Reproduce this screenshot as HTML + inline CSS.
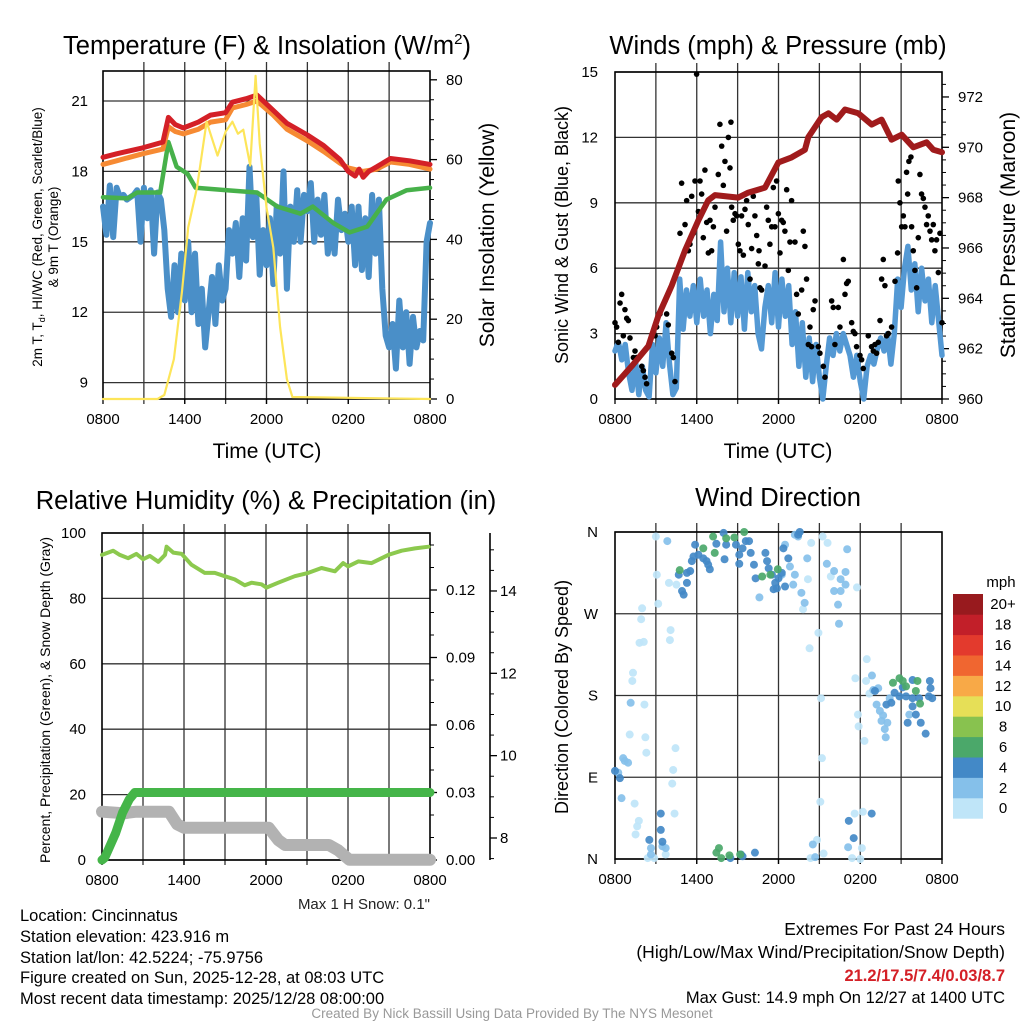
<!DOCTYPE html>
<html><head><meta charset="utf-8"><style>
html,body{margin:0;padding:0;background:#fff;}
svg{display:block;font-family:"Liberation Sans",Arial,sans-serif;}
</style></head><body>
<svg id="c" width="1024" height="1024" viewBox="0 0 1024 1024" xmlns="http://www.w3.org/2000/svg">
<rect x="0" y="0" width="1024" height="1024" fill="#fff"/>
<text x="267" y="54" font-size="25.5" text-anchor="middle">Temperature (F) &amp; Insolation (W/m<tspan font-size="15" dy="-10">2</tspan><tspan dy="10">)</tspan></text>
<text x="778" y="54" font-size="25.5" text-anchor="middle">Winds (mph) &amp; Pressure (mb)</text>
<text x="266" y="509" font-size="25.5" text-anchor="middle">Relative Humidity (%) &amp; Precipitation (in)</text>
<text x="778" y="506" font-size="25.5" text-anchor="middle">Wind Direction</text>
<text x="267" y="458" font-size="21" text-anchor="middle">Time (UTC)</text>
<text x="778" y="458" font-size="21" text-anchor="middle">Time (UTC)</text>
<text transform="translate(42,237) rotate(-90)" font-size="13.5" text-anchor="middle">2m T, T<tspan font-size="9" dy="3">d</tspan><tspan dy="-3">, HI/WC (Red, Green, Scarlet/Blue)</tspan></text>
<text transform="translate(58,237) rotate(-90)" font-size="13.5" text-anchor="middle">&amp; 9m T (Orange)</text>
<text transform="translate(494,235) rotate(-90)" font-size="21" text-anchor="middle">Solar Insolation (Yellow)</text>
<text transform="translate(568,235) rotate(-90)" font-size="18" text-anchor="middle">Sonic Wind &amp; Gust (Blue, Black)</text>
<text transform="translate(1015,235) rotate(-90)" font-size="21" text-anchor="middle">Station Pressure (Maroon)</text>
<text transform="translate(50,700) rotate(-90)" font-size="14" text-anchor="middle">Percent, Precipitation (Green), &amp; Snow Depth (Gray)</text>
<text transform="translate(568,697) rotate(-90)" font-size="18" text-anchor="middle">Direction (Colored By Speed)</text>
<text x="430" y="909" font-size="15" text-anchor="end" fill="#222">Max 1 H Snow: 0.1"</text>
<g font-size="16.5">
<text x="20" y="921">Location: Cincinnatus</text>
<text x="20" y="942">Station elevation: 423.916 m</text>
<text x="20" y="963">Station lat/lon: 42.5224; -75.9756</text>
<text x="20" y="983">Figure created on Sun, 2025-12-28, at 08:03 UTC</text>
<text x="20" y="1004">Most recent data timestamp: 2025/12/28 08:00:00</text>
</g>
<g font-size="17.5" text-anchor="end">
<text x="1005" y="935">Extremes For Past 24 Hours</text>
<text x="1005" y="958">(High/Low/Max Wind/Precipitation/Snow Depth)</text>
<text x="1005" y="981" font-size="16.5" font-weight="bold" fill="#d42027">21.2/17.5/7.4/0.03/8.7</text>
<text x="1005" y="1003" font-size="16.5">Max Gust: 14.9 mph On 12/27 at 1400 UTC</text>
</g>
<text x="512" y="1018" font-size="13.5" text-anchor="middle" fill="#999">Created By Nick Bassill Using Data Provided By The NYS Mesonet</text>
</svg>
<script>
// ---------- DATA ----------
const xTickLabels = ["0800","1400","2000","0200","0800"];
const xTickHours = [0,6,12,18,24];
// Panel 1
const tempTicks = [9,12,15,18,21];
const insolTicks = [0,20,40,60,80];
const redT = [0,1,2.9,4.4,4.8,5.3,5.9,7,7.9,9,9.5,10.5,11.3,12.5,13.5,15,16.2,17.4,18,18.5,18.8,19.1,19.5,20.1,21.1,22.5,24];
const redV = [18.6,18.75,19.0,19.25,20.3,20.0,19.85,20.1,20.4,20.5,20.95,21.1,21.25,20.6,20.05,19.55,19.1,18.5,18.0,17.8,18.1,17.75,18.0,18.2,18.55,18.45,18.3];
const orangeT = [0,1,2.9,4.4,4.8,5.3,5.9,7,7.9,9,9.5,10.5,11.3,12.5,13.5,15,16.2,17.4,18,19.1,20.1,21.1,22.5,24];
const orangeV = [18.3,18.45,18.75,18.95,19.9,19.7,19.6,19.8,20.1,20.2,20.7,20.85,21.0,20.4,19.8,19.3,18.85,18.35,18.15,18.0,18.1,18.4,18.3,18.1];
const dewT = [0,1.8,2.5,4.2,4.8,5.4,6.2,6.8,9.1,11.3,12.8,14.5,15.4,16.9,18.1,19.4,20.8,22.3,24];
const dewV = [16.9,16.85,17.1,17.1,19.25,18.2,17.9,17.3,17.2,17.1,16.5,16.2,16.5,15.8,15.4,15.65,16.8,17.2,17.3];
const chillV = [16.5,15.3,17.4,15.2,17.3,16.9,17.0,16.8,16.9,17.0,17.2,15.0,17.3,16.0,17.2,14.5,17.1,16.8,15.5,13.0,11.8,14.0,12.0,14.5,12.5,15.0,12.0,14.5,11.5,13.0,10.5,12.0,13.5,11.5,14.0,12.5,13.0,15.5,14.5,15.8,13.5,16.0,14.2,18.2,15.2,17.0,13.6,15.5,14.0,16.0,13.2,16.5,14.5,18.0,13.0,16.5,15.0,17.2,15.0,17.0,16.3,17.5,15.0,16.8,15.3,17.0,14.5,15.8,14.5,16.8,15.5,16.2,15.0,16.5,14.0,16.5,13.8,16.0,13.5,17.0,14.5,16.8,13.0,11.0,10.5,11.5,9.6,12.5,10.5,12.0,9.8,11.8,10.5,11.2,10.8,15.0,15.8];
const insolT = [0,4.0,4.5,5.2,5.8,6.25,6.9,7.6,8.4,9.0,9.5,9.9,10.3,10.8,11.2,11.5,12.0,12.5,13.0,13.5,13.9,24];
const insolV = [0,0,1,10,27,43,53,69.5,61,67,69.5,66.5,67.5,58.5,81,64,48,38,18,5,0.5,0];
// Panel 2
const windTicks = [0,3,6,9,12,15];
const pressTicks = [960,962,964,966,968,970,972];
const windV = [2.2,2.6,1.8,2.5,1.2,0.4,1.8,0.2,1.5,0.4,0.1,2.5,1.2,2.8,1.5,3.5,1.6,0.2,0.5,5.5,3.2,5.0,3.8,5.2,3.5,5.5,3.8,5.0,3.0,4.8,3.6,7.2,4.0,6.0,3.5,5.8,3.8,5.6,3.2,5.8,4.0,5.2,3.0,2.3,4.2,5.2,3.5,5.8,3.3,5.5,3.8,5.2,2.5,4.0,1.5,3.5,1.0,2.8,0.8,2.5,1.0,0.0,1.5,2.8,2.0,3.0,2.2,3.0,2.5,2.0,1.0,2.0,0.8,0.0,1.5,2.0,1.6,2.3,2.8,2.2,3.0,1.6,3.0,5.5,4.2,6.0,7.0,5.0,6.2,4.0,6.0,4.5,5.5,3.5,5.2,3.6,2.0];
const gustT = [0,.12,.49,.37,.73,.86,.98,.24,.61,1.1,1.47,1.59,1.35,1.96,2.08,2.2,2.32,2.94,3.06,3.3,3.67,3.79,3.91,4.16,4.28,4.4,4.77,4.89,5.14,5.26,5.38,5.5,5.63,5.75,5.87,6.12,6.24,6.36,6.48,6.6,6.73,6.85,6.97,7.09,7.22,7.34,7.58,7.7,7.83,7.95,8.07,8.19,8.32,8.44,8.51,8.56,8.68,8.81,8.93,9.05,9.17,9.29,9.42,9.54,9.66,9.78,9.91,10.03,10.15,10.27,10.4,10.52,10.57,10.64,10.76,11.01,11.13,11.25,11.37,11.5,11.62,11.74,11.86,11.99,12.11,12.23,12.35,12.47,12.6,12.72,12.84,12.96,13.21,13.33,13.45,13.7,13.82,13.94,14.06,14.19,14.31,14.43,14.55,14.68,14.92,15.04,15.29,15.41,15.9,16.02,16.14,16.39,16.51,16.76,16.88,17.0,17.12,17.37,17.49,17.61,17.73,17.98,18.1,18.22,18.59,18.83,18.96,19.08,19.2,19.32,19.45,19.57,19.69,19.81,19.93,20.06,20.3,20.55,20.74,20.79,20.91,21.04,21.16,21.28,21.4,21.48,21.57,21.72,21.77,21.89,22.01,22.14,22.26,22.38,22.5,22.63,22.75,22.87,22.99,23.12,23.24,23.36,23.48,23.6,23.73,23.85,24,5.99];
const gustV = [3.5,3.3,4.8,4.4,4.1,3.7,3.6,2.6,2.9,2.8,2.2,1.9,1.9,1.5,1.3,1.0,0.7,2.9,3.3,3.9,4.5,3.9,3.4,2.1,1.9,0.8,7.6,9.9,8.0,9.1,6.8,7.1,9.3,7.6,10.0,8.6,10.0,9.4,7.4,10.5,8.1,6.7,8.2,6.8,7.9,8.8,10.3,12.6,11.6,9.8,10.9,7.7,12.0,10.6,12.7,8.8,8.2,8.5,8.4,7.1,6.8,8.4,6.6,8.7,9.1,8.0,5.5,6.9,9.3,8.4,7.5,6.2,6.8,5.1,5.0,6.1,8.8,8.2,7.1,7.9,9.7,7.9,10.0,8.5,6.7,8.2,8.1,7.7,9.6,5.9,7.2,9.1,7.2,4.8,3.9,5.0,7.7,7.0,5.5,2.5,3.3,2.4,4.1,4.5,2.4,2.1,1.5,1.0,4.5,4.2,2.5,4.2,3.3,6.4,4.8,5.3,5.4,3.5,3.1,3.0,2.4,2.0,1.8,1.4,2.9,2.4,2.2,2.5,2.1,2.6,3.6,5.5,6.4,5.2,2.9,3.0,3.3,5.4,6.7,10.0,9.0,7.9,8.4,7.9,10.4,9.4,10.9,11.1,7.9,6.8,5.9,5.1,7.4,10.3,9.4,9.2,8.8,8.0,8.4,7.7,7.3,8.0,6.8,7.3,5.8,7.6,3.5,14.9];
const pressT = [0,1.22,2.45,3.18,4.16,5.14,6.12,6.85,7.34,9.05,9.78,11.01,11.99,12.96,13.94,14.19,15.17,15.66,16.27,16.88,17.86,18.84,19.57,20.3,21.04,21.89,22.87,23.36,24];
const pressV = [960.56,961.3,962.1,963.3,964.5,965.9,967.1,967.9,968.1,968.0,968.2,968.4,969.4,969.6,969.9,970.4,971.2,971.35,971.1,971.5,971.35,970.9,971.1,970.3,970.5,970.0,970.2,969.9,969.8];
// Panel 3
const pctTicks = [0,20,40,60,80,100];
const precipTicks = ["0.00","0.03","0.06","0.09","0.12"];
const snowTicks = [8,10,12,14];
const rhT = [0,0.81,1.3,1.91,2.52,3.01,3.5,4.12,4.61,4.73,5.22,5.83,6.54,7.52,8.25,8.98,9.71,10.45,10.94,11.67,12.03,12.89,14.11,15.09,16.06,17.04,17.65,18.0,18.75,19.73,20.95,21.93,22.9,23.9];
const rhV = [93.3,94.6,93.3,92.3,93.6,92.0,93.0,91.2,93.3,95.8,94.0,93.6,90.3,87.8,87.8,86.8,85.8,84.0,84.8,84.3,83.3,84.8,86.8,87.8,89.3,88.3,90.8,89.8,91.3,90.8,93.3,94.6,95.3,95.8];
const precipT = [0,0.2,0.64,1.0,1.5,2.0,2.4,24];
const precipV = [0,0.001,0.007,0.012,0.021,0.027,0.03,0.03];
const snowT = [0,1.65,2.0,2.5,4.9,5.5,6.0,12.2,12.9,13.4,16.6,17.3,18.1,24];
const snowV = [8.64,8.6,8.62,8.64,8.64,8.33,8.25,8.25,7.95,7.83,7.83,7.7,7.47,7.47];
// Panel 4
const dirLabels = ["N","E","S","W","N"];
const dirTickDeg = [0,90,180,270,360];
const speedBins = ["0","2","4","6","8","10","12","14","16","18","20+"];
const binColors = ["#bfe5f8","#85c0ea","#4389c7","#4ba86a","#88c24f","#e6df57","#f8a947","#f06630","#e33a2d","#c21f29","#981a1e"];
const paleT=[3.0,3.07,3.17,3.96,4.51,1.99,1.92,1.8,2.11,4.08,4.03,1.32,1.27,2.16,1.08,2.23,2.3,4.44,4.27,4.2,1.44,1.75,1.63,1.51,4.37,2.4,2.88,3.72,15.24,15.6,14.4,13.8,14.28,14.93,14.16,15.84,17.76,15.12,15.19,15.07,14.83,15.31,14.35,17.59,18.19,18.12,17.4,18.0,17.64,18.43,18.48,18.67,17.83,17.88,18.31];
const paleD=[355,313,281,304,302,276,264,238,239,252,241,205,196,170,137,134,117,122,98,83,61,42,36,27,50,1,1,5,355,348,348,275,232,249,308,311,299,177,111,63,21,6,1,50,52,12,1,0,199,196,220,182,159,146,130];
const lightT=[3.84,0.72,0.96,0.6,0.24,0.48,1.15,3.48,3.72,2.64,2.64,10.6,13.2,13.08,13.68,13.92,14.11,15.55,16.08,16.56,16.92,16.37,16.44,17.04,16.92,16.08,16.56,14.52,14.69,17.11,18.86,18.96,19.32,19.2,19.44,19.68,19.56,19.87,19.8,19.99,21.6,20.16,13.2,13.44,12.48,12.84,12.24];
const lightD=[350,108,106,111,95,67,172,14,12,12,5,288,313,302,293,282,331,325,317,308,302,280,259,341,316,295,295,16,2,13,202,186,188,170,163,158,152,134,143,150,159,177,357,355,346,322,313];
const midT=[5.88,5.76,5.64,5.52,5.28,4.68,4.92,5.04,5.28,6.12,6.48,6.72,6.96,6.84,7.44,8.04,7.97,8.16,8.88,9.12,9.36,9.6,9.84,9.96,10.2,9.12,11.04,11.16,11.28,11.52,11.76,12.0,11.64,11.88,12.24,12.36,12.48,12.72,13.44,13.56,10.32,3.36,3.36,2.52,3.48,10.27,8.47,9.24,9.36,17.16,17.52,18.84,19.08,19.92,20.28,20.52,20.88,21.36,21.84,22.32,23.04,23.28,21.84,22.08,21.48,22.44,22.8,23.11,23.16,21.84,21.12,0,0.36];
const midD=[346,333,328,317,315,313,295,291,304,335,331,328,319,324,347,330,359,346,346,335,342,350,350,337,324,325,337,328,320,313,304,309,297,298,315,342,300,331,357,360,309,50,32,21,19,7,1,5,3,42,23,50,185,170,172,183,179,179,177,177,179,177,168,159,150,150,138,196,188,197,189,97,89];
const greenT=[4.75,6.48,7.32,7.2,8.16,8.76,9.48,10.8,11.4,11.95,7.63,7.44,7.8,8.4,9.19,20.88,21.12,21.36,20.4,22.08,22.2,22.39];
const greenD=[318,342,337,355,353,354,360,311,313,319,12,7,1,4,5,199,196,190,194,185,196,171];
const groupSpeeds=[1,3,5,7];

// ---------- DRAWING ----------
const NS="http://www.w3.org/2000/svg";
const svg=document.getElementById('c');
function mk(tag,attrs,parent){const e=document.createElementNS(NS,tag);for(const k in attrs)e.setAttribute(k,attrs[k]);(parent||svg).appendChild(e);return e;}
function txt(parent,x,y,s,size,anchor){const e=mk('text',{x:x,y:y,'font-size':size,'text-anchor':anchor||'middle'},parent);e.textContent=s;return e;}
function pathD(ts,vs,fx,fy){let d='';for(let i=0;i<ts.length;i++){d+=(i?'L':'M')+fx(ts[i]).toFixed(1)+','+fy(vs[i]).toFixed(1);}return d;}

function panel(name,x0,x1,y0,y1,hGridYs){
  const g=mk('g',{});
  
  
  const fx=t=>x0+t/24*(x1-x0);
  for(let h=3;h<24;h+=3){
    const l=mk('line',{x1:fx(h),x2:fx(h),y1:y0-9,y2:y1+5,stroke:'#333','stroke-width':1.3},g);
    
    
  }
  hGridYs.forEach(y=>{
    const l=mk('line',{x1:x0,x2:x1,y1:y,y2:y,stroke:'#333','stroke-width':1.3},g);
    
    
  });
  const b=mk('rect',{x:x0,y:y0,width:x1-x0,height:y1-y0,fill:'none',stroke:'#000','stroke-width':1.6},g);
  
  
  xTickHours.forEach((h,i)=>{
    const l=mk('line',{x1:fx(h),x2:fx(h),y1:y1,y2:y1+5,stroke:'#000','stroke-width':1.3},g);
    
    
    const t=txt(g,fx(h),y1+25,xTickLabels[i],15);
    
    
  });
  return {g,fx};
}
function line(g,name,ts,vs,fx,fy,color,w){
  const p=mk('path',{d:pathD(ts,vs,fx,fy),fill:'none',stroke:color,'stroke-width':w,'stroke-linejoin':'round','stroke-linecap':'round'},g);
  
  
  return p;
}
function rightTicks(g,name,x,ys,labels,minorYs,lx){
  ys.forEach((y,i)=>{
    const l=mk('line',{x1:x,x2:x+7,y1:y,y2:y,stroke:'#000','stroke-width':1.3},g);
    
    
    const t=txt(g,lx,y+5,labels[i],15,'start');
    
    
  });
  minorYs.forEach(y=>{
    const l=mk('line',{x1:x,x2:x+4,y1:y,y2:y,stroke:'#000','stroke-width':1},g);
    
    
  });
}
function leftLabels(g,name,x,ys,labels){
  ys.forEach((y,i)=>{
    const t=txt(g,x,y+5,labels[i],15,'end');
    
    
  });
}

// Panel 1
(function(){
  const x0=103,x1=430,y0=71,y1=399;
  const fyT=v=>101+(21-v)*23.47, fyI=v=>399-v*3.99;
  const P=panel('temp',x0,x1,y0,y1,tempTicks.map(fyT));
  const g=P.g,fx=P.fx;
  leftLabels(g,'temp-y',88,tempTicks.map(fyT),tempTicks.map(String));
  const minors=[];for(let v=0;v<=82;v+=5){if(v%20)minors.push(fyI(v));}
  rightTicks(g,'insolation-y',x1,insolTicks.map(fyI),insolTicks.map(String),minors,446);
  const chillT=chillV.map((v,i)=>i*0.25);
  line(g,'windchill-line',chillT,chillV,fx,fyT,'#4a8fc8',6);
  line(g,'dewpoint-line',dewT,dewV,fx,fyT,'#47b14a',4.5);
  line(g,'temp-9m-line',orangeT,orangeV,fx,fyT,'#f68a33',5);
  line(g,'temp-2m-line',redT,redV,fx,fyT,'#d42027',5);
  line(g,'insolation-line',insolT,insolV,fx,fyI,'#fde559',2.2);
})();

// Panel 2
(function(){
  const x0=615,x1=942,y0=72,y1=399;
  const fyW=v=>399-v*21.8, fyP=p=>399-(p-960)*25.17;
  const P=panel('wind',x0,x1,y0,y1,windTicks.map(fyW));
  const g=P.g,fx=P.fx;
  leftLabels(g,'wind-y',598,windTicks.map(fyW),windTicks.map(String));
  const minors=[];for(let p=960;p<=972.9;p+=0.5){if(Math.abs(p-Math.round(p/2)*2)>0.01)minors.push(fyP(p));}
  rightTicks(g,'pressure-y',x1,pressTicks.map(fyP),pressTicks.map(String),minors,958);
  const wT=windV.map((v,i)=>i*0.25);
  line(g,'wind-speed-line',wT,windV,fx,fyW,'#5499d4',5.5);
  gustT.forEach((t,i)=>{
    const c=mk('circle',{cx:fx(t),cy:fyW(gustV[i]),r:2.8,fill:'#000'},g);
    
    
  });
  line(g,'pressure-line',pressT,pressV,fx,fyP,'#a01b1c',6);
})();

// Panel 3
(function(){
  const x0=102,x1=430,y0=533,y1=860;
  const fyPct=v=>860-v*3.27, fyPr=v=>860-v/0.03*67.5, fyS=v=>838-(v-8)*41.17;
  const P=panel('rh',x0,x1,y0,y1,pctTicks.map(fyPct));
  const g=P.g,fx=P.fx;
  leftLabels(g,'rh-y',86,pctTicks.map(fyPct),pctTicks.map(String));
  const prVals=precipTicks.map(Number);
  const minors=[];for(let k=1;k<=14;k++){if(k%3)minors.push(fyPr(k*0.01));}
  rightTicks(g,'precip-y',x1,prVals.map(fyPr),precipTicks,minors,446);
  const ax=mk('line',{x1:490,x2:490,y1:533,y2:860,stroke:'#000','stroke-width':1.6},g);
  
  
  const sMin=[];for(let v=7.5;v<=15;v+=0.5){if(Math.abs(v-Math.round(v/2)*2)>0.01&&fyS(v)>535)sMin.push(fyS(v));}
  rightTicks(g,'snow-y',490,snowTicks.map(fyS),snowTicks.map(String),sMin,500);
  line(g,'snow-depth-line',snowT,snowV,fx,fyS,'#b2b2b2',12);
  line(g,'precip-line',precipT,precipV,fx,fyPr,'#45b549',9);
  line(g,'rh-line',rhT,rhV,fx,fyPct,'#8cc94e',4);
})();

// Panel 4
(function(){
  const x0=615,x1=942,y0=532,y1=859;
  const fyD=d=>859-d/360*327;
  const P=panel('direction',x0,x1,y0,y1,dirTickDeg.map(fyD));
  const g=P.g,fx=P.fx;
  leftLabels(g,'direction-y',598,dirTickDeg.map(fyD),dirLabels);
  const groupsT=[paleT,lightT,midT,greenT], groupsD=[paleD,lightD,midD,greenD];
  groupsT.forEach((ts,gi)=>{
    const sp=groupSpeeds[gi];
    const col=binColors[Math.min(10,Math.floor(sp/2))];
    ts.forEach((t,i)=>{
      const c=mk('circle',{cx:fx(t),cy:fyD(groupsD[gi][i]),r:4,fill:col,'fill-opacity':0.92},g);
      
      
    });
  });
  const cb=mk('g',{});
  
  
  const t0=txt(cb,1001,587,'mph',15);
  
  
  const bh=20.4, top=594;
  speedBins.forEach((lab,i)=>{
    const y=top+(10-i)*bh;
    const r=mk('rect',{x:953,y:y,width:30,height:bh+0.3,fill:binColors[i]},cb);
    
    
    const t=txt(cb,1003,y+bh/2+5,lab,15);
    
    
  });
})();
</script>
</body></html>
